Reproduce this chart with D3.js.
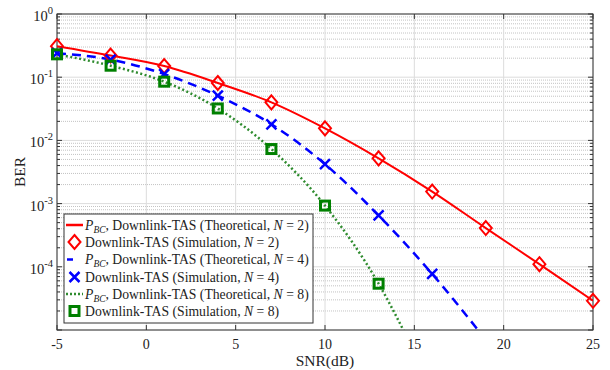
<!DOCTYPE html>
<html>
<head>
<meta charset="utf-8">
<script src="https://cdn.jsdelivr.net/npm/d3@7"></script>
<style>
  body { margin: 0; background: #fff; }
  text { font-family: "Liberation Serif", "DejaVu Serif", serif; }
</style>
</head>
<body>
<script>
// SNR points (dB) and BER values
var snrN2 = [-5, -2, 1, 4, 7, 10, 13, 16, 19, 22, 25];
var simN2 = [0.31, 0.22, 0.15, 0.081, 0.040, 0.0155, 0.0052, 0.00155, 0.00041, 0.00011, 0.000029];

var snrN4 = [-5, -2, 1, 4, 7, 10, 13, 16];
var simN4 = [0.24, 0.19, 0.112, 0.051, 0.018, 0.0042, 0.00065, 0.000077];

var snrN8 = [-5, -2, 1, 4, 7, 10, 13];
var simN8 = [0.23, 0.152, 0.085, 0.032, 0.0073, 0.00093, 0.000054];

// theoretical curves continue below the bottom of the plot
var theoSnrN2 = snrN2;
var theoN2 = simN2;
var theoSnrN4 = [-5, -2, 1, 4, 7, 10, 13, 16, 19];
var theoN4 = [0.24, 0.19, 0.112, 0.051, 0.018, 0.0042, 0.00065, 0.000077, 0.000007];
var theoSnrN8 = [-5, -2, 1, 4, 7, 10, 13, 15];
var theoN8 = [0.23, 0.152, 0.085, 0.032, 0.0073, 0.00093, 0.000054, 0.0000045];

var xTicks = [-5, 0, 5, 10, 15, 20, 25];
var yTicks = [1, 0.1, 0.01, 0.001, 0.0001];
var yTickExp = ["0", "-1", "-2", "-3", "-4"];

var width = 610, height = 370;
// plot box edges
var pLeft = 57, pRight = 593, pTop = 14, pBottom = 330;

var svg = d3.select("body").append("svg")
    .attr("width", width)
    .attr("height", height);

var x = d3.scaleLinear().domain([-5, 25]).range([pLeft, pRight]);
var y = d3.scaleLog().domain([1e-5, 1]).range([pBottom, pTop]);

// minor grid values
var minorVals = [];
for (var d = -5; d < 0; d++) {
    for (var k = 2; k <= 9; k++) minorVals.push(k * Math.pow(10, d));
}

// grid
svg.append("g").selectAll("line").data(minorVals).enter().append("line")
    .attr("x1", pLeft).attr("x2", pRight)
    .attr("y1", function(v) { return y(v); }).attr("y2", function(v) { return y(v); })
    .attr("stroke", "#9a9a9a").attr("stroke-width", 0.6)
    .attr("stroke-dasharray", "1,1");

svg.append("g").selectAll("line").data(yTicks.concat([1e-5])).enter().append("line")
    .attr("x1", pLeft).attr("x2", pRight)
    .attr("y1", function(v) { return y(v); }).attr("y2", function(v) { return y(v); })
    .attr("stroke", "#dcdcdc").attr("stroke-width", 1);

svg.append("g").selectAll("line").data(xTicks).enter().append("line")
    .attr("y1", pTop).attr("y2", pBottom)
    .attr("x1", function(v) { return x(v); }).attr("x2", function(v) { return x(v); })
    .attr("stroke", "#dcdcdc").attr("stroke-width", 1);

// ticks (inward, on all four sides)
var tk = svg.append("g").attr("stroke", "#333").attr("stroke-width", 1);
xTicks.forEach(function(v) {
    tk.append("line").attr("x1", x(v)).attr("x2", x(v)).attr("y1", pBottom).attr("y2", pBottom - 5);
    tk.append("line").attr("x1", x(v)).attr("x2", x(v)).attr("y1", pTop).attr("y2", pTop + 5);
});
yTicks.concat([1e-5]).forEach(function(v) {
    tk.append("line").attr("x1", pLeft).attr("x2", pLeft + 5).attr("y1", y(v)).attr("y2", y(v));
    tk.append("line").attr("x1", pRight).attr("x2", pRight - 5).attr("y1", y(v)).attr("y2", y(v));
});
minorVals.forEach(function(v) {
    tk.append("line").attr("x1", pLeft).attr("x2", pLeft + 3).attr("y1", y(v)).attr("y2", y(v));
    tk.append("line").attr("x1", pRight).attr("x2", pRight - 3).attr("y1", y(v)).attr("y2", y(v));
});

// box
svg.append("rect")
    .attr("x", pLeft).attr("y", pTop)
    .attr("width", pRight - pLeft).attr("height", pBottom - pTop)
    .attr("fill", "none").attr("stroke", "#333").attr("stroke-width", 1);

// tick labels
svg.append("g").selectAll("text").data(xTicks).enter().append("text")
    .attr("x", function(v) { return x(v); })
    .attr("y", 349)
    .attr("text-anchor", "middle")
    .attr("font-size", 14)
    .attr("fill", "#222")
    .text(function(v) { return v; });

yTicks.forEach(function(v, i) {
    var t = svg.append("text")
        .attr("x", 53).attr("y", y(v) + 7)
        .attr("text-anchor", "end")
        .attr("font-size", 14.5)
        .attr("fill", "#222");
    t.append("tspan").text("10");
    t.append("tspan").attr("dy", -7).attr("font-size", 10.5).text(yTickExp[i]);
});

// axis titles
svg.append("text")
    .attr("x", x(10)).attr("y", 366)
    .attr("text-anchor", "middle")
    .attr("font-size", 15.5)
    .attr("fill", "#222")
    .text("SNR(dB)");

svg.append("text")
    .attr("transform", "translate(25, 172) rotate(-90)")
    .attr("text-anchor", "middle")
    .attr("font-size", 15.5)
    .attr("fill", "#222")
    .text("BER");

// curves
svg.append("clipPath").attr("id", "plotclip")
    .append("rect").attr("x", pLeft).attr("y", pTop)
    .attr("width", pRight - pLeft).attr("height", pBottom - pTop);

var plot = svg.append("g").attr("clip-path", "url(#plotclip)");

var line = d3.line()
    .x(function(d) { return x(d[0]); })
    .y(function(d) { return y(d[1]); })
    .curve(d3.curveMonotoneX);

function pairs(xs, ys) {
    return xs.map(function(v, i) { return [v, ys[i]]; });
}

var red = "#ff0000", blue = "#0000ff", green = "#008000", dotGreen = "#2e8b2e";

plot.append("path").datum(pairs(theoSnrN8, theoN8))
    .attr("d", line).attr("fill", "none")
    .attr("stroke", dotGreen).attr("stroke-width", 2.5)
    .attr("stroke-dasharray", "2,2.5");

plot.append("path").datum(pairs(theoSnrN4, theoN4))
    .attr("d", line).attr("fill", "none")
    .attr("stroke", blue).attr("stroke-width", 2.5)
    .attr("stroke-dasharray", "9,6");

plot.append("path").datum(pairs(theoSnrN2, theoN2))
    .attr("d", line).attr("fill", "none")
    .attr("stroke", red).attr("stroke-width", 2);

// markers
function diamond(g, cx, cy) {
    g.append("path")
        .attr("d", "M" + cx + "," + (cy - 7) + "L" + (cx + 6) + "," + cy + "L" + cx + "," + (cy + 7) + "L" + (cx - 6) + "," + cy + "Z")
        .attr("fill", "none").attr("stroke", red).attr("stroke-width", 2);
}
function cross(g, cx, cy) {
    g.append("path")
        .attr("d", "M" + (cx - 5) + "," + (cy - 5) + "L" + (cx + 5) + "," + (cy + 5) + "M" + (cx + 5) + "," + (cy - 5) + "L" + (cx - 5) + "," + (cy + 5))
        .attr("fill", "none").attr("stroke", blue).attr("stroke-width", 2.5);
}
function square(g, cx, cy) {
    g.append("rect")
        .attr("x", cx - 4.5).attr("y", cy - 4.5).attr("width", 9).attr("height", 9)
        .attr("fill", "none").attr("stroke", green).attr("stroke-width", 3);
}

var mk = svg.append("g");
snrN2.forEach(function(v, i) { diamond(mk, x(v), y(simN2[i])); });
snrN4.forEach(function(v, i) { cross(mk, x(v), y(simN4[i])); });
snrN8.forEach(function(v, i) { square(mk, x(v), y(simN8[i])); });

// legend
var lg = svg.append("g");
lg.append("rect")
    .attr("x", 64).attr("y", 214).attr("width", 249).attr("height", 109)
    .attr("fill", "#fff").attr("stroke", "#333").attr("stroke-width", 1);

var rowY = [225, 242, 259.5, 277, 294, 311];
var labelN = ["2", "2", "4", "4", "8", "8"];

// samples
lg.append("line").attr("x1", 66).attr("x2", 83).attr("y1", rowY[0]).attr("y2", rowY[0])
    .attr("stroke", red).attr("stroke-width", 2.5);
diamond(lg, 74.5, rowY[1]);
lg.append("line").attr("x1", 67).attr("x2", 73).attr("y1", rowY[2]).attr("y2", rowY[2])
    .attr("stroke", blue).attr("stroke-width", 2.5);
cross(lg, 74.5, rowY[3]);
lg.append("line").attr("x1", 66).attr("x2", 83).attr("y1", rowY[4]).attr("y2", rowY[4])
    .attr("stroke", dotGreen).attr("stroke-width", 2.5).attr("stroke-dasharray", "2,2");
square(lg, 74.5, rowY[5]);

rowY.forEach(function(ry, i) {
    var t = lg.append("text")
        .attr("x", 85).attr("y", ry + 4.5)
        .attr("font-size", 13.7)
        .attr("fill", "#222");
    if (i % 2 === 0) {
        t.append("tspan").attr("font-style", "italic").text("P");
        t.append("tspan").attr("font-style", "italic").attr("font-size", 9.5).attr("dy", 3).text("BC");
        t.append("tspan").attr("dy", -3).text(", Downlink-TAS (Theoretical, ");
    } else {
        t.append("tspan").text("Downlink-TAS (Simulation, ");
    }
    t.append("tspan").attr("font-style", "italic").text("N");
    t.append("tspan").text(" = " + labelN[i] + ")");
});
</script>
</body>
</html>
